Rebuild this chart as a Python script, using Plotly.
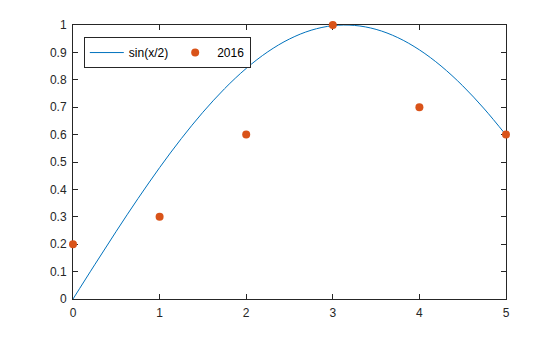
import plotly.graph_objects as go

curve_x = [0, 0.25, 0.5, 0.75, 1.0, 1.25, 1.5, 1.75, 2.0, 2.25, 2.5, 2.75, 3.0,
           3.25, 3.5, 3.75, 4.0, 4.25, 4.5, 4.75, 5.0]
curve_y = [0, 0.1247, 0.2474, 0.3663, 0.4794, 0.5851, 0.6816, 0.7675, 0.8415,
           0.9023, 0.9490, 0.9809, 0.9975, 0.9985, 0.9840, 0.9541, 0.9093,
           0.8504, 0.7781, 0.6935, 0.5985]

# Scatter series "2016"
pts_x = [0, 1, 2, 3, 4, 5]
pts_y = [0.2, 0.3, 0.6, 1.0, 0.7, 0.6]

FONT = "Liberation Sans, Arial, Helvetica"

fig = go.Figure()
fig.add_trace(go.Scatter(x=curve_x, y=curve_y, mode="lines", name="sin(x/2)",
                         line=dict(color="#0072BD", width=1, shape="spline")))
fig.add_trace(go.Scatter(x=pts_x, y=pts_y, mode="markers", name="2016",
                         marker=dict(color="#D95319", size=8), cliponaxis=False))

axis_common = dict(showline=True, mirror="ticks", linecolor="#262626", linewidth=1,
                   ticks="inside", ticklen=5, tickcolor="#262626", showgrid=False,
                   zeroline=False, layer="below traces",
                   tickfont=dict(family=FONT, size=12, color="#262626"))

fig.update_xaxes(range=[0, 5], dtick=1, tick0=0, ticklabelstandoff=3, **axis_common)
fig.update_yaxes(range=[0, 1], dtick=0.1, tick0=0, ticklabelstandoff=3, **axis_common)

fig.update_layout(
    width=560, height=337,
    margin=dict(l=73, r=54, t=25, b=38),
    plot_bgcolor="white", paper_bgcolor="white",
    font=dict(family=FONT, size=12, color="#000000"),
    legend=dict(orientation="h", x=0.025, y=0.956, xanchor="left", yanchor="top",
                bordercolor="#262626", borderwidth=1, bgcolor="white",
                font=dict(size=12), tracegroupgap=0, itemwidth=34),
    showlegend=True,
)

fig.write_html("out.html")
